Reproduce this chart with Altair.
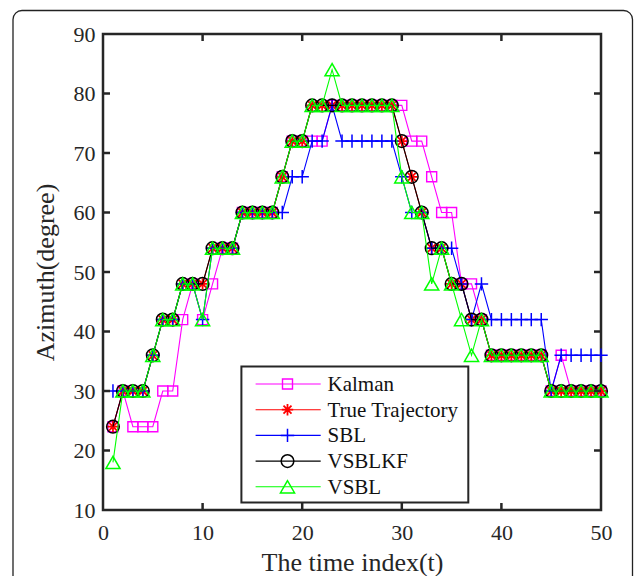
import altair as alt
import pandas as pd

# ---------------- data ----------------
t = list(range(1, 51))
kalman = [24, 30, 24, 24, 24, 30, 30, 42, 48, 42,
          48, 54, 54, 60, 60, 60, 60, 66, 72, 72,
          72, 72, 78, 78, 78, 78, 78, 78, 78, 78,
          72, 72, 66, 60, 60, 48, 48, 42, 36, 36,
          36, 36, 36, 36, 30, 36, 30, 30, 30, 30]
true_traj = [24, 30, 30, 30, 36, 42, 42, 48, 48, 48,
             54, 54, 54, 60, 60, 60, 60, 66, 72, 72,
             78, 78, 78, 78, 78, 78, 78, 78, 78, 72,
             66, 60, 54, 54, 48, 48, 42, 42, 36, 36,
             36, 36, 36, 36, 30, 30, 30, 30, 30, 30]
sbl = [30, 30, 30, 30, 36, 42, 42, 48, 48, 42,
       54, 54, 54, 60, 60, 60, 60, 60, 66, 66,
       72, 72, 78, 72, 72, 72, 72, 72, 72, 66,
       60, 60, 54, 54, 54, 48, 42, 48, 42, 42,
       42, 42, 42, 42, 30, 36, 36, 36, 36, 36]
vsblkf = [24, 30, 30, 30, 36, 42, 42, 48, 48, 48,
          54, 54, 54, 60, 60, 60, 60, 66, 72, 72,
          78, 78, 78, 78, 78, 78, 78, 78, 78, 72,
          66, 60, 54, 54, 48, 48, 42, 42, 36, 36,
          36, 36, 36, 36, 30, 30, 30, 30, 30, 30]
vsbl = [18, 30, 30, 30, 36, 42, 42, 48, 48, 42,
        54, 54, 54, 60, 60, 60, 60, 66, 72, 72,
        78, 78, 84, 78, 78, 78, 78, 78, 78, 66,
        60, 60, 48, 54, 48, 42, 36, 42, 36, 36,
        36, 36, 36, 36, 30, 30, 30, 30, 30, 30]

series_names = ["Kalman", "True Trajectory", "SBL", "VSBLKF", "VSBL"]
series_values = [kalman, true_traj, sbl, vsblkf, vsbl]

x_ticks = [0, 10, 20, 30, 40, 50]
y_ticks = [10, 20, 30, 40, 50, 60, 70, 80, 90]

# ---------------- styles ----------------
STAR = "M0,-1V1M-1,0H1M-0.7,-0.7L0.7,0.7M-0.7,0.7L0.7,-0.7"
PLUS = "M-1,0H1M0,-1V1"
colors = ["#ff00ff", "#ff0000", "#0000ff", "#000000", "#00ff00"]
shapes = ["square", STAR, PLUS, "circle", "triangle-up"]
sizes = [100, 130, 180, 160, 200]
mstroke = [1.4, 1.8, 1.5, 1.5, 1.5]

W, H = 498, 476
FONT = "Liberation Serif"
AX = "#262626"

xs = alt.Scale(domain=[0, 50], nice=False, zero=False)
ys = alt.Scale(domain=[10, 90], nice=False, zero=False)

x_axis = alt.Axis(values=x_ticks, title="The time index(t)", ticks=False, domain=False,
                  grid=False, labelFlush=False, labelOverlap=False, labelPadding=12,
                  titlePadding=6, labelFontSize=22, titleFontSize=26, labelFont=FONT,
                  titleFont=FONT, labelColor=AX, titleColor=AX, titleFontWeight="normal")
y_axis = alt.Axis(values=y_ticks, title="Azimuth(degree)", ticks=False, domain=False,
                  grid=False, labelFlush=False, labelOverlap=False, labelPadding=8,
                  titlePadding=15, labelFontSize=22, titleFontSize=26, labelFont=FONT,
                  titleFont=FONT, labelColor=AX, titleColor=AX, titleFontWeight="normal")

layers = []

# outer rounded frame
layers.append(
    alt.Chart(pd.DataFrame({"a": [0]})).mark_rect(
        fillOpacity=0, stroke="#222222", strokeWidth=1.3, cornerRadius=9
    ).encode(x=alt.value(-90), x2=alt.value(529.5), y=alt.value(-23.5), y2=alt.value(H + 120))
)

for name, vals, c, sh, sz, sw in zip(series_names, series_values, colors, shapes, sizes, mstroke):
    df = pd.DataFrame({"t": t, "v": vals, "series": name})
    base = alt.Chart(df).encode(
        x=alt.X("t:Q", scale=xs, axis=x_axis),
        y=alt.Y("v:Q", scale=ys, axis=y_axis),
    )
    layers.append(base.mark_line(color=c, strokeWidth=1.1))
    layers.append(base.mark_point(shape=sh, size=sz, color=c, filled=False,
                                  strokeWidth=sw, opacity=1))

# inward ticks on all four sides
TL = 7
ydf = pd.DataFrame({"v": y_ticks[1:-1]})
xdf = pd.DataFrame({"t": x_ticks[1:-1]})
for x0, x1 in [(0, TL), (W - TL, W)]:
    layers.append(alt.Chart(ydf).mark_rule(color=AX, strokeWidth=2.5).encode(
        y=alt.Y("v:Q", scale=ys, axis=y_axis), x=alt.value(x0), x2=alt.value(x1)))
for y0, y1 in [(0, TL), (H - TL, H)]:
    layers.append(alt.Chart(xdf).mark_rule(color=AX, strokeWidth=2.5).encode(
        x=alt.X("t:Q", scale=xs, axis=x_axis), y=alt.value(y0), y2=alt.value(y1)))

# legend (manual, MATLAB style)
LX0, LX1, LY0, LY1 = 138.4, 365.3, 332.6, 468.6
layers.append(
    alt.Chart(pd.DataFrame({"a": [0]})).mark_rect(
        fill="white", stroke=AX, strokeWidth=2
    ).encode(x=alt.value(LX0), x2=alt.value(LX1), y=alt.value(LY0), y2=alt.value(LY1))
)
row_y0, row_step = 350.0, 25.7
for i, (name, c, sh, sz, sw) in enumerate(zip(series_names, colors, shapes, sizes, mstroke)):
    ry = row_y0 + i * row_step
    ldf = pd.DataFrame({"label": [name]})
    lc = alt.Chart(ldf)
    layers.append(lc.mark_rule(color=c, strokeWidth=1.1).encode(
        x=alt.value(152.6), x2=alt.value(217.7), y=alt.value(ry)))
    layers.append(lc.mark_point(shape=sh, size=sz, color=c, filled=False,
                                strokeWidth=sw, opacity=1).encode(
        x=alt.value(184.5), y=alt.value(ry)))
    layers.append(lc.mark_text(align="left", baseline="middle", fontSize=21, font=FONT,
                               color="#111111").encode(
        text="label:N", x=alt.value(224.5), y=alt.value(ry + 1)))

chart = alt.layer(*layers).properties(
    width=W, height=H,
    padding={"left": 103, "top": 34, "right": 33, "bottom": 66},
    autosize=alt.AutoSizeParams(type="none"),
    background="white",
).configure_view(stroke=AX, strokeWidth=2.5)

chart.save("out.html", embed_options={"renderer": "svg", "actions": False})
